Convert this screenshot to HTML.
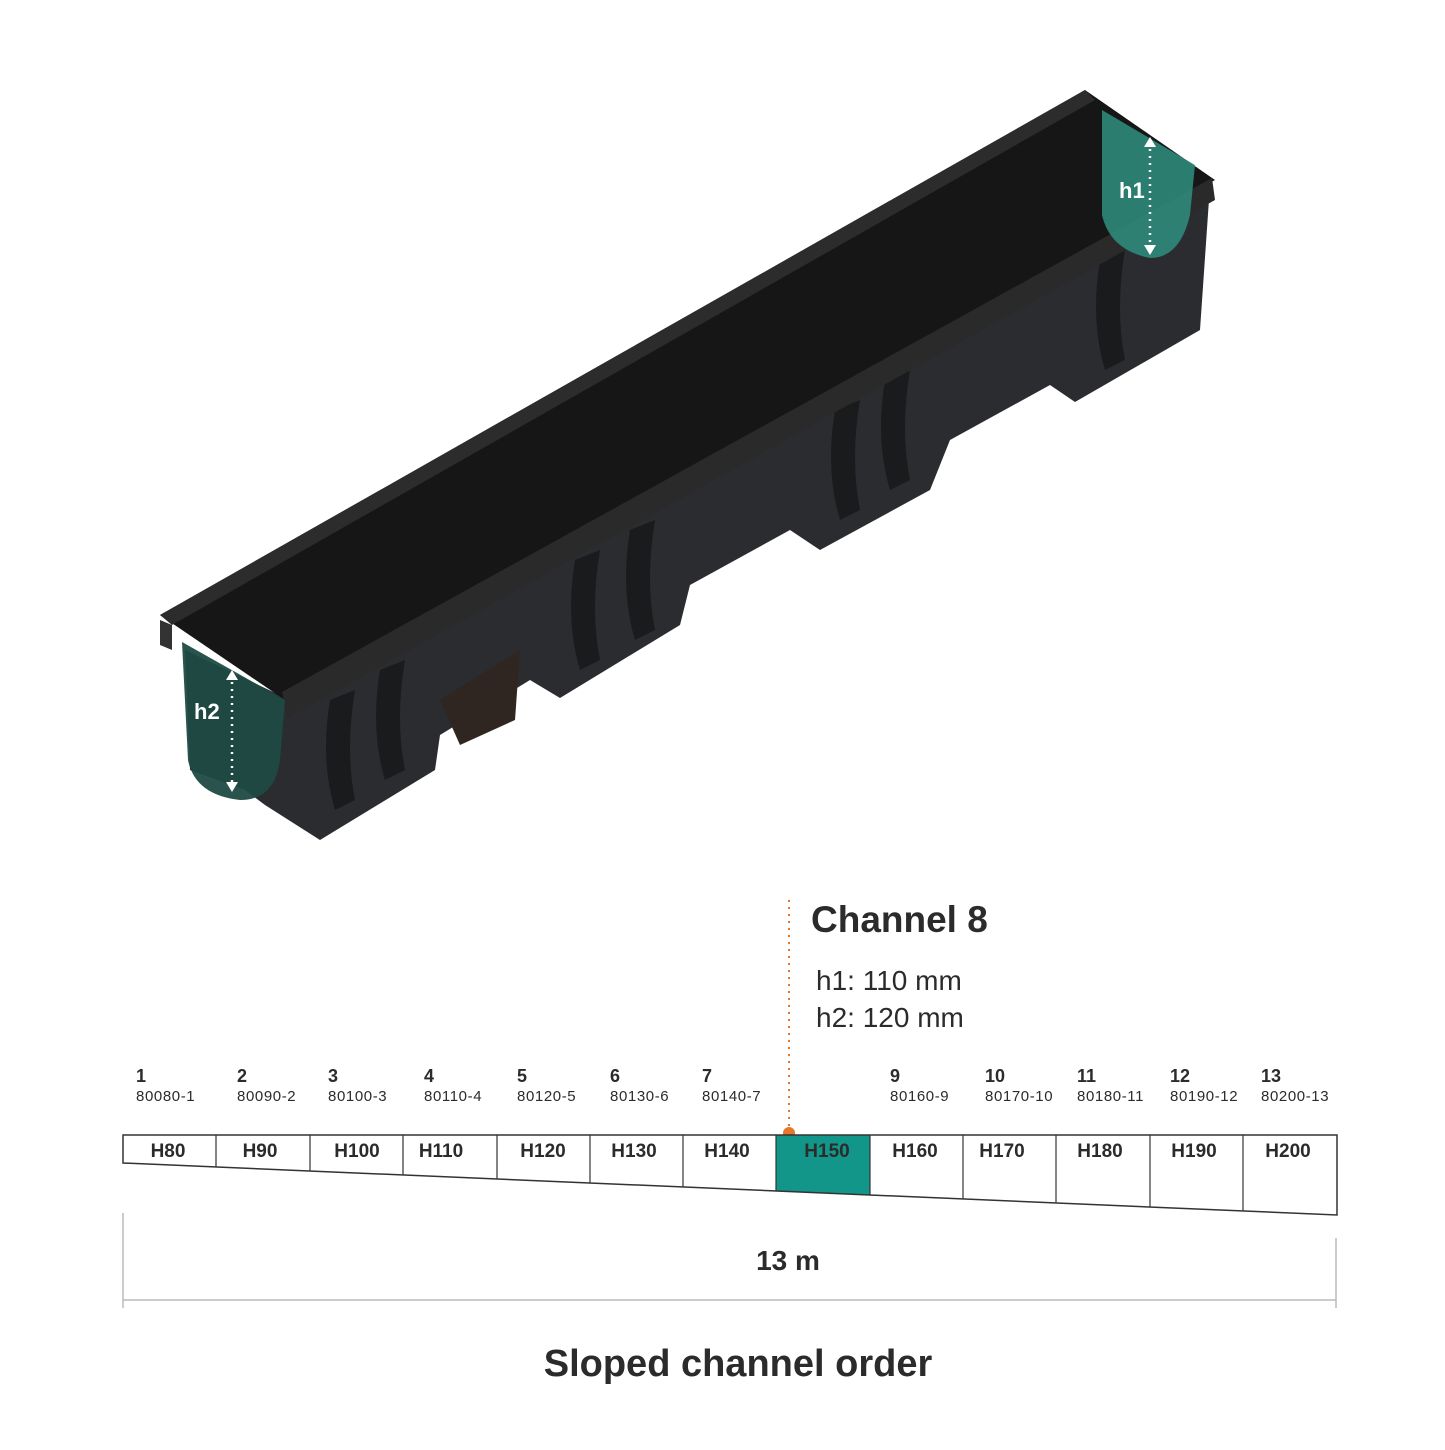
<!DOCTYPE html>
<html><head><style>
body{margin:0;background:#fff;}
svg text{font-family:"Liberation Sans",sans-serif;fill:#2b2b2b}
</style></head><body>
<svg width="1445" height="1445" viewBox="0 0 1445 1445" xmlns="http://www.w3.org/2000/svg">
<polygon points="185,650 290,700 1210,185 1200,330 1075,402 1050,385 950,440 930,490 820,550 790,530 690,585 680,625 560,698 530,680 440,735 435,770 320,840 265,805 245,790 190,770" fill="#2a2c2f"/>
<g fill="#1a1b1d">
<path d="M330,700 q-10,60 5,110 l20,-10 q-10,-50 0,-110z"/>
<path d="M380,670 q-10,60 5,110 l20,-10 q-10,-50 0,-110z"/>
<path d="M575,560 q-10,60 5,110 l20,-10 q-10,-50 0,-110z"/>
<path d="M630,530 q-10,60 5,110 l20,-10 q-10,-50 0,-110z"/>
<path d="M835,410 q-10,60 5,110 l20,-10 q-10,-50 0,-110z"/>
<path d="M885,380 q-10,60 5,110 l20,-10 q-10,-50 0,-110z"/>
<path d="M1100,260 q-10,60 5,110 l20,-10 q-10,-50 0,-110z"/>
</g>
<polygon points="440,700 520,650 515,720 460,745" fill="#2f2622"/>
<polygon points="160,615 1085,90 1215,180 285,700" fill="#161616"/>
<polygon points="160,615 1085,90 1095,100 172,625" fill="#2c2c2c"/>
<polygon points="160,620 172,625 172,650 160,645" fill="#333"/>
<polygon points="282,692 1212,178 1215,200 288,718" fill="#2a2a2a"/>
<path d="M182,642 L285,700 L280,760 Q275,800 240,800 Q195,795 188,760 Z" fill="#1e4a42" opacity="0.95"/>
<line x1="232" y1="675" x2="232" y2="788" stroke="#fff" stroke-width="2.5" stroke-dasharray="2,5"/>
<path d="M226,680 L232,670 L238,680Z M226,782 L232,792 L238,782Z" fill="#fff"/>
<text x="194" y="719" font-size="22" font-weight="bold" style="fill:#fff">h2</text>
<path d="M1102,110 L1195,165 L1190,215 Q1180,258 1150,258 Q1110,250 1102,215 Z" fill="#2e8f7f" opacity="0.85"/>
<line x1="1150" y1="142" x2="1150" y2="250" stroke="#fff" stroke-width="2.5" stroke-dasharray="2,5"/>
<path d="M1144,147 L1150,137 L1156,147Z M1144,245 L1150,255 L1156,245Z" fill="#fff"/>
<text x="1119" y="198" font-size="22" font-weight="bold" style="fill:#fff">h1</text>
<line x1="789" y1="900" x2="789" y2="1133" stroke="#e8762b" stroke-width="2" stroke-dasharray="2,5"/>
<circle cx="789" cy="1133" r="6" fill="#e8762b"/>
<text x="811" y="932" font-size="37" font-weight="600">Channel 8</text>
<text x="816" y="990" font-size="28">h1: 110 mm</text>
<text x="816" y="1027" font-size="28">h2: 120 mm</text>
<g font-size="18" font-weight="bold">
<text x="136" y="1082">1</text><text x="237" y="1082">2</text><text x="328" y="1082">3</text><text x="424" y="1082">4</text><text x="517" y="1082">5</text><text x="610" y="1082">6</text><text x="702" y="1082">7</text><text x="890" y="1082">9</text><text x="985" y="1082">10</text><text x="1077" y="1082">11</text><text x="1170" y="1082">12</text><text x="1261" y="1082">13</text>
</g>
<g font-size="15" style="fill:#444" letter-spacing="0.6">
<text x="136" y="1101">80080-1</text><text x="237" y="1101">80090-2</text><text x="328" y="1101">80100-3</text><text x="424" y="1101">80110-4</text><text x="517" y="1101">80120-5</text><text x="610" y="1101">80130-6</text><text x="702" y="1101">80140-7</text><text x="890" y="1101">80160-9</text><text x="985" y="1101">80170-10</text><text x="1077" y="1101">80180-11</text><text x="1170" y="1101">80190-12</text><text x="1261" y="1101">80200-13</text>
</g>
<polygon points="776,1135 870,1135 870,1195 776,1191" fill="#13968a"/>
<polygon points="123,1135 1337,1135 1337,1215 123,1163" fill="none" stroke="#333" stroke-width="1.5"/>
<g stroke="#333" stroke-width="1.2">
<line x1="216" y1="1135" x2="216" y2="1167"/><line x1="310" y1="1135" x2="310" y2="1171"/><line x1="403" y1="1135" x2="403" y2="1175"/><line x1="497" y1="1135" x2="497" y2="1179"/><line x1="590" y1="1135" x2="590" y2="1183"/><line x1="683" y1="1135" x2="683" y2="1187"/><line x1="776" y1="1135" x2="776" y2="1191"/><line x1="870" y1="1135" x2="870" y2="1195"/><line x1="963" y1="1135" x2="963" y2="1199"/><line x1="1056" y1="1135" x2="1056" y2="1203"/><line x1="1150" y1="1135" x2="1150" y2="1207"/><line x1="1243" y1="1135" x2="1243" y2="1211"/>
</g>
<g font-size="19" font-weight="bold" text-anchor="middle">
<text x="168" y="1157">H80</text><text x="260" y="1157">H90</text><text x="357" y="1157">H100</text><text x="441" y="1157">H110</text><text x="543" y="1157">H120</text><text x="634" y="1157">H130</text><text x="727" y="1157">H140</text><text x="827" y="1157">H150</text><text x="915" y="1157">H160</text><text x="1002" y="1157">H170</text><text x="1100" y="1157">H180</text><text x="1194" y="1157">H190</text><text x="1288" y="1157">H200</text>
</g>
<g stroke="#bbb" stroke-width="1.5">
<line x1="123" y1="1213" x2="123" y2="1308"/><line x1="1336" y1="1238" x2="1336" y2="1308"/><line x1="123" y1="1300" x2="1336" y2="1300"/>
</g>
<text x="788" y="1270" font-size="28" font-weight="bold" text-anchor="middle">13 m</text>
<text x="738" y="1376" font-size="38" font-weight="bold" text-anchor="middle">Sloped channel order</text>
</svg>
</body></html>
